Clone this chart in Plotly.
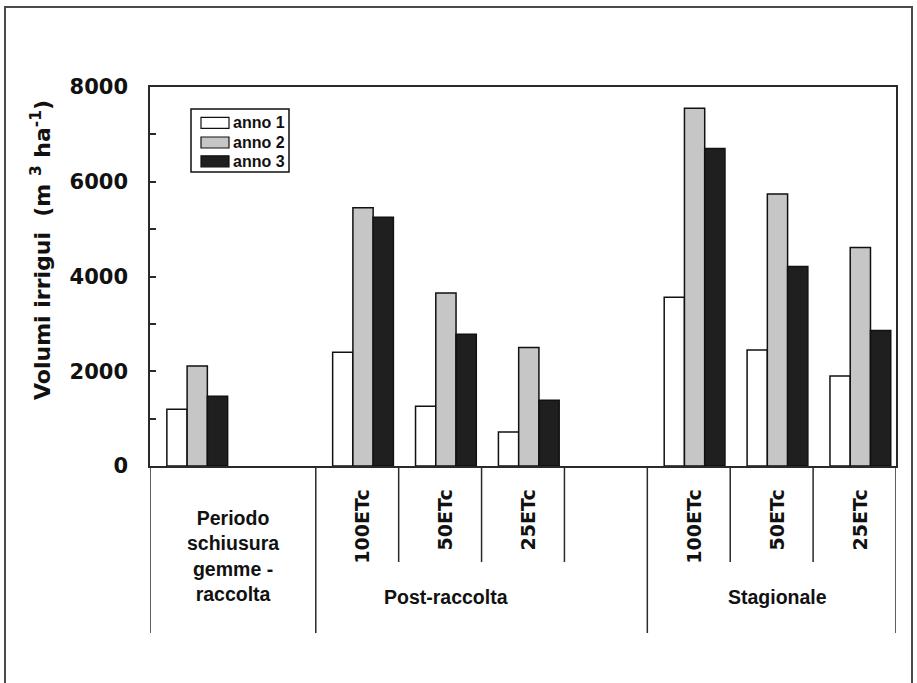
import plotly.graph_objects as go

# ---- data ----
positions = [0, 2, 3, 4, 6, 7, 8]          # slot index of each bar group
tick_positions = [2, 3, 4, 6, 7, 8]
tick_labels = ["100ETc", "50ETc", "25ETc", "100ETc", "50ETc", "25ETc"]
series_names = ["anno 1", "anno 2", "anno 3"]
anno1 = [1200, 2400, 1260, 720, 3560, 2450, 1900]
anno2 = [2110, 5450, 3650, 2500, 7550, 5740, 4610]
anno3 = [1470, 5250, 2780, 1390, 6700, 4210, 2860]
values = [anno1, anno2, anno3]
colors = ["#ffffff", "#c6c6c6", "#1f1f1f"]
group_labels = ["Periodo<br>schiusura<br>gemme -<br>raccolta", "Post-raccolta", "Stagionale"]
group_label_x = [0.43, 3, 7]

W, H = 917, 683
L, R, T = 150, 21, 87
B = H - 466
PW, PH = W - L - R, H - T - B


def px(xp):
    return (xp - L) / PW


def py(yp):
    return (466 - yp) / PH


TXT = "#111111"
fig = go.Figure()
for name, vals, col in zip(series_names, values, colors):
    fig.add_trace(go.Bar(
        x=positions, y=vals, name=name,
        marker=dict(color=col, line=dict(color="#111111", width=1.5)),
        showlegend=False,
    ))

shapes = []
line_col = "#2a2a2a"
# separators below axis
for xs in [-0.57, 1.43, 5.43, 8.43]:
    shapes.append(dict(type="line", xref="x", yref="paper", x0=xs, x1=xs,
                       y0=0, y1=py(633), line=dict(color=line_col, width=1.5)))
for xs in [2.43, 3.43, 4.43, 6.43, 7.43]:
    shapes.append(dict(type="line", xref="x", yref="paper", x0=xs, x1=xs,
                       y0=0, y1=py(562), line=dict(color=line_col, width=1.5)))
# outer frame
shapes.append(dict(type="rect", xref="paper", yref="paper",
                   x0=px(5), x1=px(912), y0=py(7), y1=py(700),
                   line=dict(color="#4a4a4a", width=2)))
# legend box
shapes.append(dict(type="rect", xref="paper", yref="paper",
                   x0=px(191), x1=px(289), y0=py(109), y1=py(172),
                   line=dict(color="#111111", width=1.5), fillcolor="white"))
annotations = []
rows = [122.8, 142.5, 161.3]
for name, col, yc in zip(series_names, colors, rows):
    shapes.append(dict(type="rect", xref="paper", yref="paper",
                       x0=px(201), x1=px(229), y0=py(yc - 5.5), y1=py(yc + 5.5),
                       line=dict(color="#111111", width=1.2), fillcolor=col))
    annotations.append(dict(text=name, xref="paper", yref="paper",
                            x=px(231), y=py(yc), xanchor="left", yanchor="middle",
                            showarrow=False,
                            font=dict(family="Liberation Sans", size=16, color=TXT,
                                      weight="bold")))

# group labels
for txt, gx, gy in zip(group_labels, group_label_x, [556, 596.5, 596.5]):
    annotations.append(dict(text=txt, xref="x", yref="paper",
                            x=gx, y=py(gy), xanchor="center", yanchor="middle",
                            showarrow=False, align="center",
                            font=dict(family="Liberation Sans", size=19.5, color=TXT,
                                      weight="bold")))

# y-axis title
annotations.append(dict(text="Volumi irrigui  (m <sup>3</sup> ha<sup>-1</sup>)",
                        xref="paper", yref="paper", x=px(41), y=py(250),
                        xanchor="center", yanchor="middle", textangle=-90,
                        showarrow=False,
                        font=dict(family="DejaVu Sans", size=22, color=TXT,
                                  weight="bold")))

fig.update_layout(
    width=W, height=H, autosize=False,
    margin=dict(l=L, r=R, t=T, b=B, pad=0),
    paper_bgcolor="white", plot_bgcolor="white",
    barmode="group", bargap=0.267, bargroupgap=0,
    shapes=shapes, annotations=annotations,
    showlegend=False,
)
fig.update_xaxes(range=[-0.57, 8.43], tickmode="array", tickvals=tick_positions,
                 ticktext=tick_labels, tickangle=-90,
                 ticks="", showgrid=False, zeroline=False,
                 showline=True, mirror=True, linecolor=line_col, linewidth=1.5,
                 ticklabelstandoff=14,
                 tickfont=dict(family="DejaVu Sans", size=19, color=TXT, weight="bold"))
fig.update_yaxes(range=[0, 8000], dtick=2000, tick0=0, ticks="inside", ticklen=6,
                 tickwidth=1.5, tickcolor=line_col,
                 minor=dict(dtick=1000, ticks="inside", ticklen=6, tickwidth=1.5,
                            tickcolor=line_col),
                 showgrid=False, zeroline=False,
                 showline=True, mirror=True, linecolor=line_col, linewidth=1.5,
                 ticklabelstandoff=16,
                 tickfont=dict(family="DejaVu Sans", size=21, color=TXT, weight="bold"),
                 tickformat="d")

# remove the default 8px page margin so the figure fills the window exactly
fig.write_html("out.html",
               config={"displayModeBar": False},
               post_script="document.body.style.margin='0';document.body.style.overflow='hidden';")
